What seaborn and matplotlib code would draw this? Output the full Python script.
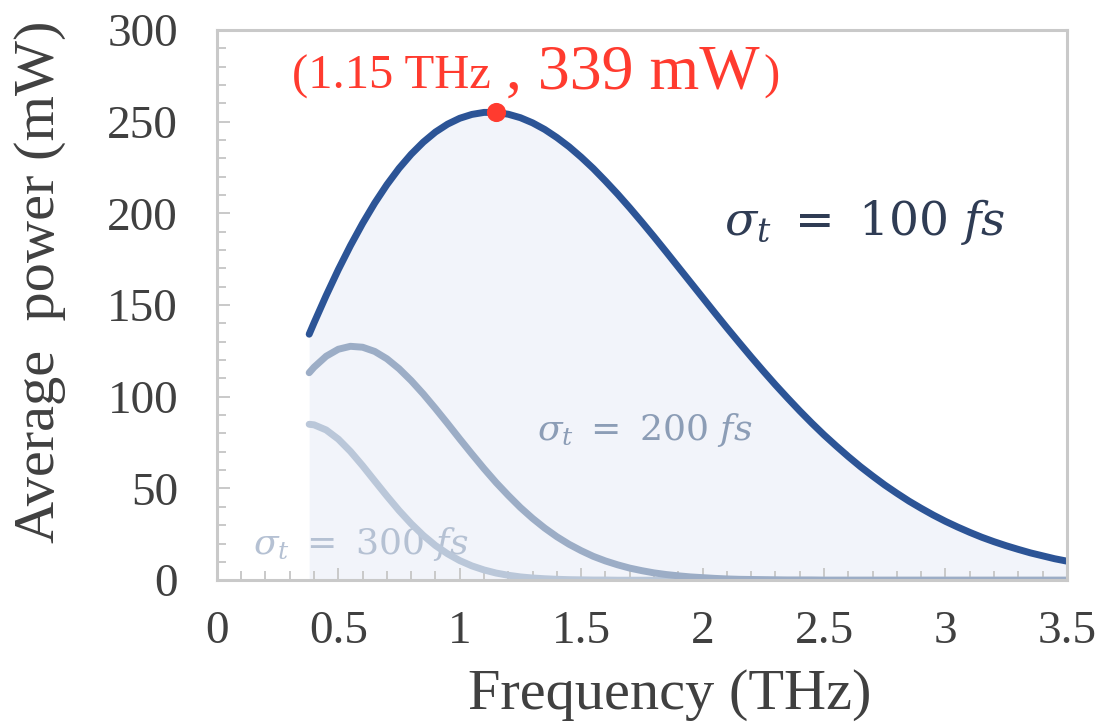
import matplotlib
matplotlib.use("Agg")
import matplotlib.pyplot as plt
from matplotlib.ticker import MultipleLocator
import seaborn as sns
import pandas as pd

# Frequency grid (THz) and average THz power (mW) for three pulse durations
freq = [0.38, 0.40, 0.45, 0.50, 0.55, 0.60, 0.65, 0.70, 0.75, 0.80,
        0.85, 0.90, 0.95, 1.00, 1.05, 1.10, 1.15, 1.20, 1.25, 1.30,
        1.35, 1.40, 1.45, 1.50, 1.55, 1.60, 1.65, 1.70, 1.75, 1.80,
        1.85, 1.90, 1.95, 2.00, 2.05, 2.10, 2.15, 2.20, 2.25, 2.30,
        2.35, 2.40, 2.45, 2.50, 2.55, 2.60, 2.65, 2.70, 2.75, 2.80,
        2.85, 2.90, 2.95, 3.00, 3.05, 3.10, 3.15, 3.20, 3.25, 3.30,
        3.35, 3.40, 3.45, 3.50]

power_100fs = [134.1, 140.3, 155.2, 169.3, 182.4, 194.5, 205.6, 215.6, 224.5, 232.2,
               238.8, 244.3, 248.6, 251.8, 253.9, 255.0, 255.0, 254.0, 252.1, 249.3,
               245.7, 241.3, 236.3, 230.6, 224.4, 217.6, 210.5, 203.0, 195.2, 187.2,
               179.0, 170.7, 162.4, 154.1, 145.8, 137.6, 129.6, 121.7, 114.0, 106.5,
               99.3, 92.3, 85.6, 79.2, 73.2, 67.4, 61.9, 56.8, 51.9, 47.4,
               43.1, 39.2, 35.5, 32.1, 29.0, 26.1, 23.4, 21.0, 18.8, 16.8,
               14.9, 13.3, 11.7, 10.4]

power_200fs = [113.1, 116.1, 122.1, 125.9, 127.5, 127.0, 124.7, 120.7, 115.3, 108.8,
               101.5, 93.6, 85.4, 77.0, 68.8, 60.8, 53.2, 46.2, 39.6, 33.7,
               28.4, 23.7, 19.6, 16.1, 13.0, 10.5, 8.4, 6.6, 5.2, 4.0,
               3.1, 2.4, 1.8, 1.4, 1.0, 0.7, 0.5, 0.4, 0.3, 0.2,
               0.1, 0.1, 0.1, 0.0, 0.0, 0.0, 0.0, 0.0, 0.0, 0.0,
               0.0, 0.0, 0.0, 0.0, 0.0, 0.0, 0.0, 0.0, 0.0, 0.0,
               0.0, 0.0, 0.0, 0.0]

power_300fs = [85.0, 84.7, 81.9, 76.9, 70.2, 62.4, 54.1, 45.9, 38.0, 30.8,
               24.4, 18.9, 14.4, 10.7, 7.8, 5.6, 3.9, 2.7, 1.8, 1.2,
               0.8, 0.5, 0.3, 0.2, 0.1, 0.1, 0.0, 0.0, 0.0, 0.0,
               0.0, 0.0, 0.0, 0.0, 0.0, 0.0, 0.0, 0.0, 0.0, 0.0,
               0.0, 0.0, 0.0, 0.0, 0.0, 0.0, 0.0, 0.0, 0.0, 0.0,
               0.0, 0.0, 0.0, 0.0, 0.0, 0.0, 0.0, 0.0, 0.0, 0.0,
               0.0, 0.0, 0.0, 0.0]

peak_freq = 1.15
peak_label_freq = "(1.15 THz"
peak_label_power = ", 339 mW"

x_ticks = [0, 0.5, 1, 1.5, 2, 2.5, 3, 3.5]
x_ticklabels = ["0", "0.5", "1", "1.5", "2", "2.5", "3", "3.5"]
y_ticks = [0, 50, 100, 150, 200, 250, 300]

sns.set_theme(style="white")
plt.rcParams["font.family"] = ["Liberation Serif", "DejaVu Serif"]
plt.rcParams["mathtext.fontset"] = "dejavuserif"

df = pd.DataFrame({"freq": freq, "p100": power_100fs,
                   "p200": power_200fs, "p300": power_300fs})

fig = plt.figure(figsize=(11.01, 7.28), dpi=100)
ax = fig.add_axes([0.197, 0.203, 0.772, 0.756])
ax.set_axisbelow(False)

c100 = "#2c5496"
c200 = "#9cadc6"
c300 = "#bac7d9"
fill_c = "#f2f4fa"
spine_c = "#c9c9c9"
text_c = "#404040"
red = "#ff3b2f"

# shaded area under the 100 fs spectrum
ax.fill_between(df["freq"], 0, df["p100"], color=fill_c, lw=0, zorder=1)

sns.lineplot(data=df, x="freq", y="p300", ax=ax, color=c300, linewidth=5.0,
             solid_capstyle="round", zorder=3)
sns.lineplot(data=df, x="freq", y="p200", ax=ax, color=c200, linewidth=5.0,
             solid_capstyle="round", zorder=3)
sns.lineplot(data=df, x="freq", y="p100", ax=ax, color=c100, linewidth=5.0,
             solid_capstyle="round", zorder=4)

# peak marker on the 100 fs curve
peak_power = df.loc[df["freq"].sub(peak_freq).abs().idxmin(), "p100"]
ax.scatter([peak_freq], [peak_power], s=190, color=red, zorder=6, lw=0)

ax.text(0.31, 268, peak_label_freq, fontsize=35, color=red, ha="left",
        va="baseline", zorder=7)
ax.text(1.19, 268, peak_label_power, fontsize=46, color=red, ha="left",
        va="baseline", zorder=7)
ax.text(2.25, 268, ")", fontsize=35, color=red, ha="left",
        va="baseline", zorder=7)

# curve labels
ax.text(2.09, 195, r"$\sigma_t\ =\ 100\ fs$", fontsize=34, color="#2f3c54",
        ha="left", va="center", zorder=7)
ax.text(1.32, 82, r"$\sigma_t\ =\ 200\ fs$", fontsize=26, color="#8c9db6",
        ha="left", va="center", zorder=7)
ax.text(0.15, 20, r"$\sigma_t\ =\ 300\ fs$", fontsize=26, color="#b5c1d3",
        ha="left", va="center", zorder=2)

ax.set_xlim(0, 3.5)
ax.set_ylim(0, 300)
ax.set_xticks(x_ticks)
ax.set_xticklabels(x_ticklabels)
ax.set_yticks(y_ticks)
ax.xaxis.set_minor_locator(MultipleLocator(0.1))
ax.yaxis.set_minor_locator(MultipleLocator(10))

ax.tick_params(axis="both", which="both", bottom=True, left=True,
               top=False, right=False)
ax.tick_params(axis="both", which="major", direction="in", length=9, width=1.4,
               color=spine_c, labelsize=34, labelcolor=text_c)
ax.tick_params(axis="both", which="minor", direction="in", length=6.5, width=1.4,
               color=spine_c)
ax.tick_params(axis="x", which="major", pad=22)
ax.tick_params(axis="y", which="major", pad=28)

for s in ax.spines.values():
    s.set_color(spine_c)
    s.set_linewidth(2.2)
    s.set_visible(True)
    s.set_zorder(5)

ax.set_xlabel("Frequency (THz)", fontsize=42, color=text_c)
ax.set_ylabel("Average  power (mW)", fontsize=42, color=text_c)
ax.xaxis.set_label_coords(0.533, -0.162)
ax.yaxis.set_label_coords(-0.178, 0.542)
ax.set_facecolor("white")

fig.savefig("out.png", dpi=100, facecolor="white")
